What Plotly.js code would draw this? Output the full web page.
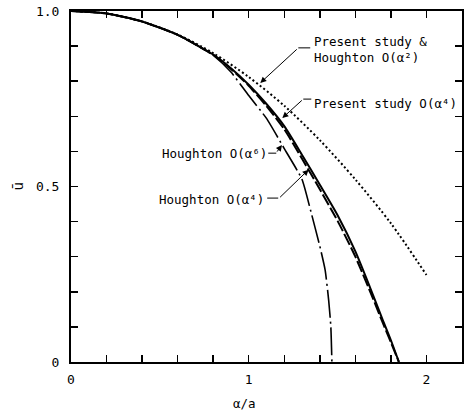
<!DOCTYPE html>
<html>
<head>
<meta charset="utf-8">
<script src="https://cdn.plot.ly/plotly-3.0.1.min.js"></script>
<style>html,body{margin:0;padding:0;background:#fff;}</style>
</head>
<body>
<div id="chart" style="width:465px;height:414px;"></div>
<script>
// Present study & Houghton O(alpha^2) (dotted)
const xO2 = [0, 0.2, 0.4, 0.6, 0.8, 1.0, 1.2, 1.4, 1.6, 1.8, 2.0];
const yO2 = [1, 0.993, 0.970, 0.933, 0.880, 0.812, 0.730, 0.632, 0.520, 0.395, 0.248];

// Present study O(alpha^4) (solid)
const xP4 = [0, 0.2, 0.4, 0.6, 0.8, 0.9, 1.0, 1.1, 1.2, 1.3, 1.4, 1.5, 1.6, 1.7, 1.75, 1.8, 1.845];
const yP4 = [1, 0.993, 0.970, 0.932, 0.876, 0.837, 0.790, 0.735, 0.672, 0.590, 0.505, 0.418, 0.315, 0.190, 0.125, 0.062, 0];

// Houghton O(alpha^4) (dashed)
const xH4 = [0, 0.2, 0.4, 0.6, 0.8, 0.9, 1.0, 1.1, 1.2, 1.3, 1.4, 1.5, 1.6, 1.7, 1.75, 1.8, 1.845];
const yH4 = [1, 0.993, 0.970, 0.932, 0.875, 0.835, 0.787, 0.729, 0.663, 0.579, 0.492, 0.402, 0.300, 0.180, 0.117, 0.056, 0];

// Houghton O(alpha^6) (dash-dot)
const xH6 = [0, 0.2, 0.4, 0.6, 0.8, 0.9, 1.0, 1.1, 1.2, 1.3, 1.35, 1.4, 1.43, 1.45, 1.462, 1.468];
const yH6 = [1, 0.993, 0.970, 0.932, 0.874, 0.826, 0.759, 0.694, 0.608, 0.520, 0.428, 0.330, 0.262, 0.175, 0.100, 0];

// Tick labels
const xTickVals = [0, 0.2, 0.4, 0.6, 0.8, 1.0, 1.2, 1.4, 1.6, 1.8, 2.0];
const xTickText = ['0', '', '', '', '', '1', '', '', '', '', '2'];
const yTickVals = [0, 0.1, 0.2, 0.3, 0.4, 0.5, 0.6, 0.7, 0.8, 0.9, 1.0];
const yTickText = ['0', '', '', '', '', '0.5', '', '', '', '', '1.0'];

const FONT = 'DejaVu Sans Mono, monospace';

const traces = [
  {x: xO2, y: yO2, mode: 'lines', line: {color: '#000', width: 2, dash: '2px,2.5px', shape: 'spline', smoothing: 0.8}, hoverinfo: 'skip'},
  {x: xP4, y: yP4, mode: 'lines', line: {color: '#000', width: 2, shape: 'spline', smoothing: 0.6}, hoverinfo: 'skip'},
  {x: xH4, y: yH4, mode: 'lines', line: {color: '#000', width: 2, dash: '12px,3px', shape: 'spline', smoothing: 0.6}, hoverinfo: 'skip'},
  {x: xH6, y: yH6, mode: 'lines', line: {color: '#000', width: 1.6, dash: '28px,4px,2px,4px', shape: 'spline', smoothing: 0.5}, hoverinfo: 'skip'}
];

const txt = {family: FONT, size: 12.5, color: '#000'};
function label(text, x, y, xanchor) {
  return {text: text, x: x, y: y, xref: 'x', yref: 'y', xanchor: xanchor, yanchor: 'middle', align: 'left',
          showarrow: false, font: txt, borderpad: 0};
}
function arrow(x, y, ax, ay) {
  return {text: '', x: x, y: y, xref: 'x', yref: 'y', showarrow: true, ax: ax, ay: ay,
          arrowhead: 2, arrowsize: 1.2, arrowwidth: 1, arrowcolor: '#000', standoff: 0};
}
function lead(x0, x1, y) {
  return {type: 'line', xref: 'x', yref: 'y', x0: x0, x1: x1, y0: y, y1: y, line: {color: '#000', width: 1}};
}

const annotations = [
  label('Present study &<br>Houghton O(α²)', 1.363, 0.889, 'left'),
  label('Present study O(α⁴)', 1.363, 0.737, 'left'),
  label('Houghton O(α⁶)', 1.110, 0.595, 'right'),
  label('Houghton O(α⁴)', 1.093, 0.4635, 'right'),
  arrow(1.065, 0.795, 38, -35),
  arrow(1.189, 0.695, 21, -19),
  arrow(1.187, 0.618, -6, 8),
  arrow(1.337, 0.548, -30, 29),
  {text: 'ū', x: -0.138, y: 0.5, xref: 'paper', yref: 'paper', xanchor: 'center', yanchor: 'middle', textangle: -90,
   showarrow: false, font: {family: FONT, size: 14, color: '#000'}},
  {text: 'α/a', x: 0.975, y: -0.117, xref: 'x', yref: 'paper', xanchor: 'center', yanchor: 'middle',
   showarrow: false, font: txt}
];

const shapes = [
  lead(1.279, 1.346, 0.895),
  lead(1.307, 1.352, 0.749),
  lead(1.110, 1.155, 0.595),
  lead(1.104, 1.166, 0.467)
];

const axisCommon = {
  showgrid: false, zeroline: false, showline: true, linecolor: '#000', linewidth: 2,
  mirror: 'ticks', ticks: 'inside', ticklen: 7, tickwidth: 1.5, tickcolor: '#000',
  tickfont: {family: FONT, size: 13, color: '#000'}, fixedrange: true
};

const layout = {
  width: 465, height: 414,
  margin: {l: 71, r: 3, t: 11, b: 52},
  paper_bgcolor: '#fff', plot_bgcolor: '#fff',
  showlegend: false,
  xaxis: Object.assign({}, axisCommon, {range: [0, 2.2], tickmode: 'array', tickvals: xTickVals, ticktext: xTickText, ticklabelstandoff: 4}),
  yaxis: Object.assign({}, axisCommon, {range: [0, 1], tickmode: 'array', tickvals: yTickVals, ticktext: yTickText, ticklabelstandoff: 7}),
  annotations: annotations,
  shapes: shapes
};

Plotly.newPlot('chart', traces, layout, {displayModeBar: false, staticPlot: true});
</script>
</body>
</html>
